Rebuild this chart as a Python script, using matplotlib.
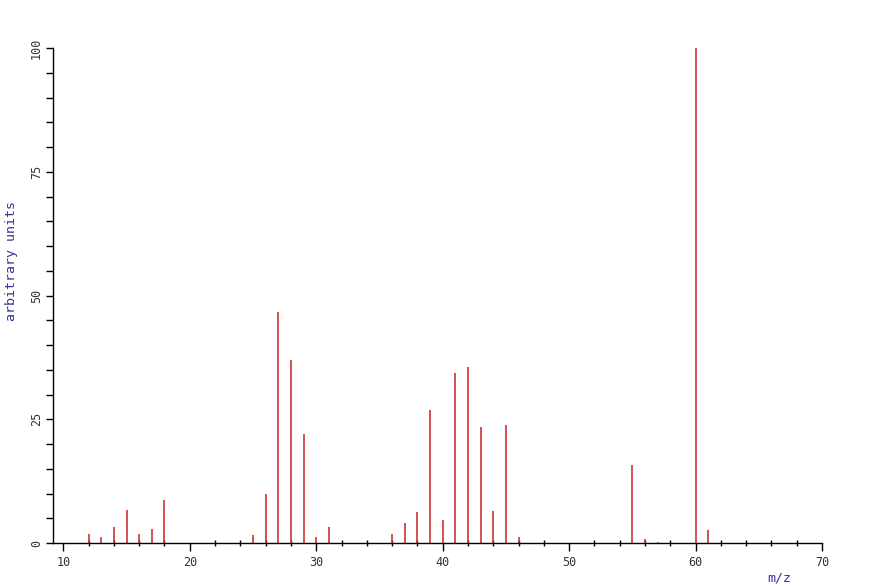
import matplotlib
matplotlib.use("Agg")
import matplotlib.pyplot as plt
from matplotlib.ticker import MultipleLocator

mz = [12, 13, 14, 15, 16, 17, 18, 25, 26, 27, 28, 29, 30, 31,
      36, 37, 38, 39, 40, 41, 42, 43, 44, 45, 46, 55, 56, 57, 60, 61]
intensity = [1.8, 1.2, 3.3, 6.7, 1.8, 2.8, 8.6, 1.6, 9.9, 46.6, 37.0, 22.0, 1.2, 3.2,
             1.8, 4.0, 6.2, 26.9, 4.6, 34.3, 35.6, 23.4, 6.5, 23.8, 1.3, 15.8, 0.8, 0.3, 100.0, 2.6]
x_major = [10, 20, 30, 40, 50, 60, 70]
y_major = [0, 25, 50, 75, 100]

fig = plt.figure(figsize=(8.71, 5.86), dpi=100)
ax = fig.add_axes([52.7/871, 1-543/586, (822-52.7)/871, (543-48)/586])

ax.vlines(mz, 0, intensity, colors="#cc3333", linewidth=1.2)

ax.set_xlim(9.16, 70)
ax.set_ylim(0, 100)
for s in ("top", "right"):
    ax.spines[s].set_visible(False)
for s in ("left", "bottom"):
    ax.spines[s].set_linewidth(1.0)
    ax.spines[s].set_color("black")
ax.spines["bottom"].set_bounds(9.16, 70)

ax.set_xticks(x_major)
ax.set_xticklabels([str(v) for v in x_major])
ax.xaxis.set_minor_locator(MultipleLocator(2))
ax.set_yticks(y_major)
ax.set_yticklabels([str(v) for v in y_major], rotation=90, va="center")
ax.yaxis.set_minor_locator(MultipleLocator(5))

mono = "DejaVu Sans Mono"
ax.tick_params(axis="x", which="major", direction="out", length=6, width=1, pad=3,
               labelsize=8.5, labelcolor="#333333")
ax.tick_params(axis="x", which="minor", direction="inout", length=5, width=1)
ax.tick_params(axis="y", which="major", direction="out", length=5, width=1, pad=2,
               labelsize=8.5, labelcolor="#333333")
ax.tick_params(axis="y", which="minor", direction="out", length=5, width=1)
for lbl in ax.get_xticklabels() + ax.get_yticklabels():
    lbl.set_fontfamily(mono)

fig.text(12/871, 1-261/586, "arbitrary units", rotation=90, ha="center", va="center",
         fontsize=9.5, color="#333399", family=mono)
fig.text(779/871, 1-578/586, "m/z", ha="center", va="center",
         fontsize=9.5, color="#333399", family=mono)

fig.savefig("out.png", dpi=100)
